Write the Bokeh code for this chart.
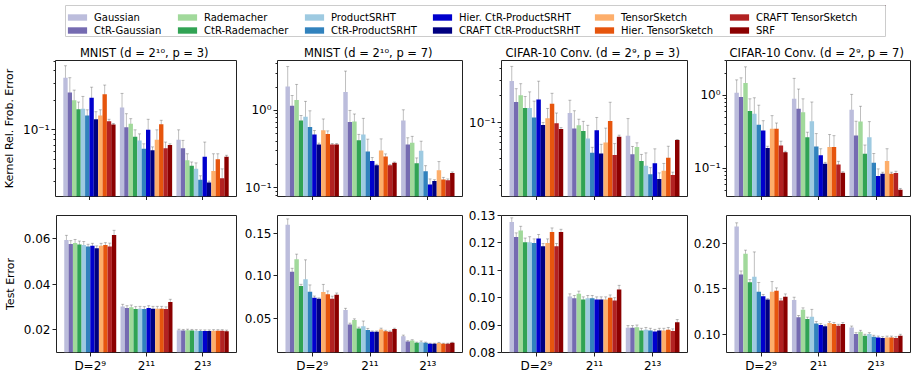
from bokeh.plotting import figure
from bokeh.models import (ColumnDataSource, Range1d, FixedTicker, Whisker, TeeHead,
                          Legend, LegendItem, NumeralTickFormatter)
from bokeh.layouts import column, row
from bokeh.embed import file_html
from bokeh.resources import INLINE

FONT = "DejaVu Sans"

methods = ["Gaussian", "CtR-Gaussian", "Rademacher", "CtR-Rademacher",
           "ProductSRHT", "CtR-ProductSRHT", "Hier. CtR-ProductSRHT", "CRAFT CtR-ProductSRHT",
           "TensorSketch", "Hier. TensorSketch", "CRAFT TensorSketch", "SRF"]
colors = ["#bcbddc", "#756bb1", "#a1d99b", "#31a354",
          "#9ecae1", "#3182bd", "#0000cd", "#000080",
          "#fdae6b", "#e6550d", "#b22222", "#8b0000"]
group_labels = ["D=2⁹", "2¹¹", "2¹³"]

titles = ["MNIST  (d = 2¹⁰, p = 3)", "MNIST  (d = 2¹⁰, p = 7)",
          "CIFAR-10 Conv.  (d = 2⁹, p = 3)", "CIFAR-10 Conv.  (d = 2⁹, p = 7)"]

# ---- Kernel relative Frobenius error (top row), one list per D group ----
kern_mnist3_mean = [[0.34, 0.24, 0.20, 0.162, 0.164, 0.14, 0.212, 0.128, 0.14, 0.23, 0.122, 0.113],
                    [0.169, 0.106, 0.115, 0.085, 0.078, 0.064, 0.10, 0.062, 0.079, 0.114, 0.065, 0.070],
                    [0.079, 0.065, 0.049, 0.043, 0.040, 0.031, 0.053, 0.029, 0.038, 0.050, 0.032, 0.053]]
kern_mnist3_std = [[0.11, 0.10, 0.054, 0.03, 0.055, 0.02, 0.06, 0.025, 0.02, 0.056, 0.006, 0.003],
                   [0.066, 0.04, 0.015, 0.015, 0.013, 0.008, 0.028, 0.005, 0.021, 0.011, 0.01, 0.002],
                   [0.021, 0.013, 0.008, 0.004, 0.006, 0.003, 0.022, 0.001, 0.019, 0.007, 0.008, 0.002]]

kern_mnist7_mean = [[2.04, 1.15, 1.37, 0.74, 0.83, 0.61, 0.49, 0.363, 0.556, 0.494, 0.363, 0.363],
                    [1.73, 0.71, 0.72, 0.41, 0.49, 0.295, 0.221, 0.195, 0.304, 0.254, 0.195, 0.21],
                    [0.74, 0.363, 0.382, 0.208, 0.30, 0.163, 0.110, 0.122, 0.168, 0.128, 0.125, 0.155]]
kern_mnist7_std = [[1.66, 0.41, 0.8, 0.12, 0.48, 0.38, 0.06, 0.015, 0.22, 0.05, 0.01, 0.01],
                   [1.5, 0.29, 0.18, 0.08, 0.3, 0.13, 0.025, 0.006, 0.125, 0.02, 0.005, 0.005],
                   [0.28, 0.08, 0.08, 0.035, 0.1, 0.03, 0.02, 0.005, 0.05, 0.008, 0.005, 0.005]]

kern_cifar3_mean = [[0.293, 0.171, 0.203, 0.147, 0.147, 0.115, 0.182, 0.095, 0.113, 0.164, 0.099, 0.0857],
                    [0.129, 0.0867, 0.094, 0.081, 0.067, 0.0464, 0.083, 0.0457, 0.0605, 0.105, 0.0438, 0.070],
                    [0.0718, 0.0446, 0.054, 0.0375, 0.0333, 0.0267, 0.0354, 0.0237, 0.0293, 0.0409, 0.0262, 0.0643]]
kern_cifar3_std = [[0.134, 0.07, 0.071, 0.05, 0.075, 0.06, 0.11, 0.006, 0.032, 0.05, 0.03, 0.003],
                   [0.05, 0.05, 0.016, 0.023, 0.027, 0.007, 0.032, 0.012, 0.027, 0.065, 0.015, 0.003],
                   [0.04, 0.01, 0.006, 0.007, 0.013, 0.005, 0.016, 0.004, 0.006, 0.014, 0.002, 0.001]]

kern_cifar7_mean = [[1.09, 0.95, 1.48, 0.61, 0.56, 0.395, 0.33, 0.19, 0.348, 0.348, 0.205, 0.166],
                    [0.90, 0.656, 0.59, 0.267, 0.443, 0.199, 0.15, 0.115, 0.195, 0.195, 0.112, 0.0863],
                    [0.635, 0.282, 0.44, 0.158, 0.267, 0.119, 0.0777, 0.0838, 0.125, 0.0838, 0.0855, 0.0505]]
kern_cifar7_std = [[0.55, 0.8, 1.0, 0.29, 0.37, 0.34, 0.12, 0.01, 0.18, 0.07, 0.03, 0.005],
                   [0.82, 0.57, 0.31, 0.045, 0.37, 0.1, 0.035, 0.005, 0.095, 0.085, 0.012, 0.003],
                   [0.4, 0.16, 0.27, 0.05, 0.17, 0.04, 0.02, 0.004, 0.06, 0.004, 0.005, 0.002]]

# ---- Test error (bottom row) ----
test_mnist3_mean = [[0.0593, 0.0575, 0.058, 0.0573, 0.0571, 0.0564, 0.0568, 0.0557, 0.0568, 0.0571, 0.0564, 0.0615],
                    [0.0301, 0.0295, 0.0298, 0.0291, 0.0292, 0.0291, 0.0295, 0.0292, 0.0292, 0.0292, 0.029, 0.0321],
                    [0.0197, 0.0196, 0.0197, 0.0196, 0.0195, 0.0194, 0.0194, 0.0194, 0.0195, 0.0195, 0.0195, 0.0193]]
test_mnist3_std = [[0.002, 0.0015, 0.0015, 0.0015, 0.0015, 0.001, 0.001, 0.001, 0.001, 0.001, 0.0015, 0.002],
                   [0.001, 0.001, 0.001, 0.001, 0.001, 0.001, 0.001, 0.001, 0.001, 0.001, 0.001, 0.0012],
                   [0.0005, 0.0005, 0.0005, 0.0005, 0.0005, 0.0005, 0.0005, 0.0005, 0.0005, 0.0005, 0.0005, 0.0005]]

test_mnist7_mean = [[0.16, 0.1047, 0.1194, 0.0878, 0.0957, 0.0811, 0.074, 0.0728, 0.0807, 0.078, 0.0728, 0.0776],
                    [0.0595, 0.0425, 0.0476, 0.0378, 0.0405, 0.0358, 0.0338, 0.0338, 0.0366, 0.0346, 0.0338, 0.037],
                    [0.0287, 0.0224, 0.0235, 0.0208, 0.0215, 0.0208, 0.0197, 0.0197, 0.0205, 0.0197, 0.0197, 0.0208]]
test_mnist7_std = [[0.007, 0.004, 0.006, 0.002, 0.023, 0.008, 0.002, 0.001, 0.009, 0.004, 0.003, 0.002],
                   [0.002, 0.0015, 0.0015, 0.0015, 0.006, 0.002, 0.001, 0.001, 0.0015, 0.001, 0.001, 0.001],
                   [0.0012, 0.001, 0.001, 0.0008, 0.0015, 0.0008, 0.0006, 0.0006, 0.0008, 0.0006, 0.0006, 0.0006]]

test_cifar3_mean = [[0.1277, 0.1222, 0.1246, 0.1203, 0.1203, 0.12, 0.1216, 0.1188, 0.12, 0.124, 0.1188, 0.124],
                    [0.1004, 0.0998, 0.1014, 0.0993, 0.0998, 0.0998, 0.0993, 0.0993, 0.0993, 0.1, 0.099, 0.103],
                    [0.089, 0.089, 0.0892, 0.088, 0.0883, 0.088, 0.0876, 0.088, 0.088, 0.0883, 0.0878, 0.091]]
test_cifar3_std = [[0.0015, 0.0015, 0.0015, 0.0015, 0.002, 0.0015, 0.0015, 0.001, 0.0015, 0.0015, 0.001, 0.001],
                   [0.001, 0.001, 0.001, 0.001, 0.001, 0.001, 0.001, 0.001, 0.001, 0.001, 0.001, 0.0015],
                   [0.0008, 0.0008, 0.0008, 0.0008, 0.0008, 0.0008, 0.0008, 0.0008, 0.0008, 0.0008, 0.0008, 0.001]]

test_cifar7_mean = [[0.2183, 0.1657, 0.1884, 0.1573, 0.1635, 0.1471, 0.142, 0.1384, 0.1471, 0.1482, 0.1373, 0.1416],
                    [0.138, 0.119, 0.1274, 0.1172, 0.1197, 0.1124, 0.1107, 0.1092, 0.1128, 0.1118, 0.1099, 0.1118],
                    [0.108, 0.1008, 0.1033, 0.099, 0.1008, 0.0979, 0.0971, 0.0964, 0.097, 0.097, 0.0964, 0.099]]
test_cifar7_std = [[0.004, 0.004, 0.004, 0.003, 0.027, 0.01, 0.002, 0.001, 0.011, 0.003, 0.002, 0.003],
                   [0.003, 0.002, 0.002, 0.002, 0.008, 0.002, 0.0015, 0.0015, 0.0015, 0.0015, 0.0015, 0.0015],
                   [0.0015, 0.0015, 0.0015, 0.0015, 0.0015, 0.0015, 0.0015, 0.0015, 0.0015, 0.0015, 0.0015, 0.0015]]

kern_ranges = [(0.0209, 0.509), (0.077, 4.43), (0.0151, 0.497), (0.0407, 3.03)]
test_ranges = [(0.01, 0.07), (0.0094, 0.171), (0.07995, 0.13005), (0.0806, 0.2303)]
test_ticks = [[0.02, 0.04, 0.06], [0.05, 0.10, 0.15],
              [0.08, 0.09, 0.10, 0.11, 0.12, 0.13], [0.10, 0.15, 0.20]]

BAR_W = 0.077
# per-column layout: (left border, frame width, right border) in px
COLS = [(52, 184, 4), (37, 185, 3), (36, 186, 3), (36, 184, 5)]
# legend column offsets (px from the legend box's left edge)
LEGEND_COL_X = [0, 110, 237, 365, 527, 662]


def build_source(mean, std):
    xs, tops, cols, up, lo = [], [], [], [], []
    for g, (gm, gs) in enumerate(zip(mean, std)):
        for i, (m, s) in enumerate(zip(gm, gs)):
            xs.append(g + (i - 5.5) * BAR_W)
            tops.append(m)
            cols.append(colors[i])
            up.append(m + s)
            lo.append(m - s)
    return ColumnDataSource(dict(x=xs, top=tops, color=cols, upper=up, lower=lo))


def style_common(p):
    p.xgrid.visible = False
    p.ygrid.visible = False
    p.outline_line_color = "#222222"
    p.outline_line_width = 1
    for ax in (p.xaxis[0], p.yaxis[0]):
        ax.axis_line_color = None
        ax.major_tick_in = 0
        ax.major_tick_out = 4
        ax.major_tick_line_color = "#222222"
        ax.major_label_text_font = FONT
        ax.major_label_text_font_size = "12px"
        ax.major_label_text_color = "black"
        ax.major_label_standoff = 2
        ax.axis_label_text_font = FONT
        ax.axis_label_text_font_size = "11px"
        ax.axis_label_text_font_style = "normal"
        ax.axis_label_text_color = "black"
        ax.axis_label_standoff = 4
    p.xaxis[0].ticker = FixedTicker(ticks=[0, 1, 2])
    p.xaxis[0].minor_tick_line_color = None


def draw_bars(p, src, bottom):
    p.vbar(x="x", top="top", bottom=bottom, width=BAR_W, fill_color="color",
           line_color=None, source=src)
    head = dict(size=3, line_color="black", line_alpha=0.25, line_width=1)
    p.add_layout(Whisker(source=src, base="x", upper="upper", lower="lower",
                         line_color="black", line_alpha=0.25, line_width=1,
                         upper_head=TeeHead(**head), lower_head=TeeHead(**head)))


kern_means = [kern_mnist3_mean, kern_mnist7_mean, kern_cifar3_mean, kern_cifar7_mean]
kern_stds = [kern_mnist3_std, kern_mnist7_std, kern_cifar3_std, kern_cifar7_std]
test_means = [test_mnist3_mean, test_mnist7_mean, test_cifar3_mean, test_cifar7_mean]
test_stds = [test_mnist3_std, test_mnist7_std, test_cifar3_std, test_cifar7_std]

minor_log = [k * 10.0 ** e for e in (-2, -1, 0) for k in range(2, 10)]

top_figs, bot_figs = [], []
for j in range(4):
    lb, fw, rb = COLS[j]
    w = lb + fw + rb
    # top row: kernel error (log)
    p = figure(width=w, height=160, title=titles[j], y_axis_type="log",
               x_range=Range1d(-0.6, 2.6), y_range=Range1d(*kern_ranges[j]),
               toolbar_location=None, output_backend="svg",
               min_border_left=lb, min_border_right=rb, min_border_top=20, min_border_bottom=4)
    style_common(p)
    p.title.align = "center"
    p.title.text_font = FONT
    p.title.text_font_size = "11.5px"
    p.title.text_font_style = "normal"
    p.title.text_color = "black"
    p.title.standoff = 1
    # top row: ticks only, no labels
    p.xaxis[0].major_label_text_font_size = "0px"
    p.xaxis[0].major_label_text_color = None
    p.xaxis[0].major_label_standoff = 0
    ya = p.yaxis[0]
    ya.ticker = FixedTicker(ticks=[0.01, 0.1, 1.0, 10.0], minor_ticks=minor_log)
    ya.major_label_overrides = {0.01: "10⁻²", 0.1: "10⁻¹", 1.0: "10⁰", 10.0: "10¹"}
    ya.minor_tick_in = 0
    ya.minor_tick_out = 2
    ya.minor_tick_line_color = "#222222"
    if j == 0:
        ya.axis_label = "Kernel Rel. Frob. Error"
    draw_bars(p, build_source(kern_means[j], kern_stds[j]), 1e-4)
    top_figs.append(p)

    # bottom row: test error (linear)
    q = figure(width=w, height=176,
               x_range=Range1d(-0.6, 2.6), y_range=Range1d(*test_ranges[j]),
               toolbar_location=None, output_backend="svg",
               min_border_left=lb, min_border_right=rb, min_border_top=15, min_border_bottom=24)
    style_common(q)
    q.xaxis[0].major_label_overrides = {i: lab for i, lab in enumerate(group_labels)}
    yb = q.yaxis[0]
    yb.ticker = FixedTicker(ticks=test_ticks[j])
    yb.formatter = NumeralTickFormatter(format="0.00")
    yb.minor_tick_line_color = None
    if j == 0:
        yb.axis_label = "Test Error"
    draw_bars(q, build_source(test_means[j], test_stds[j]), 0)
    bot_figs.append(q)

# ---- shared legend (box = the frame of this small figure) ----
total_w = sum(lb + fw + rb for lb, fw, rb in COLS)
leg = figure(width=total_w, height=40, x_range=Range1d(0, 1), y_range=Range1d(0, 1),
             toolbar_location=None, output_backend="svg",
             x_axis_location=None, y_axis_location=None,
             min_border_left=65, min_border_right=total_w - 885, min_border_top=5, min_border_bottom=4,
             outline_line_color="#cccccc", outline_line_width=1)
leg.xgrid.visible = False
leg.ygrid.visible = False
renderers = []
for c in colors:
    # one point placed outside the visible range, only so the legend can draw a patch
    renderers.append(leg.vbar(x=[5], top=[5], bottom=[4], width=0.1, fill_color=c, line_color=None))

for k, x0 in enumerate(LEGEND_COL_X):
    its = [LegendItem(label=methods[2 * k + m], renderers=[renderers[2 * k + m]]) for m in range(2)]
    lg = Legend(items=its, orientation="vertical", location=(x0, 0),
                glyph_width=24, glyph_height=8, label_height=12, label_standoff=5,
                spacing=1, padding=3, margin=0,
                label_text_font=FONT, label_text_font_size="10px", label_text_color="black",
                border_line_color=None, background_fill_alpha=0)
    leg.add_layout(lg, "center")

layout = column(leg, row(*top_figs, spacing=0), row(*bot_figs, spacing=0), spacing=0)
open("out.html", "w").write(file_html(layout, INLINE))
